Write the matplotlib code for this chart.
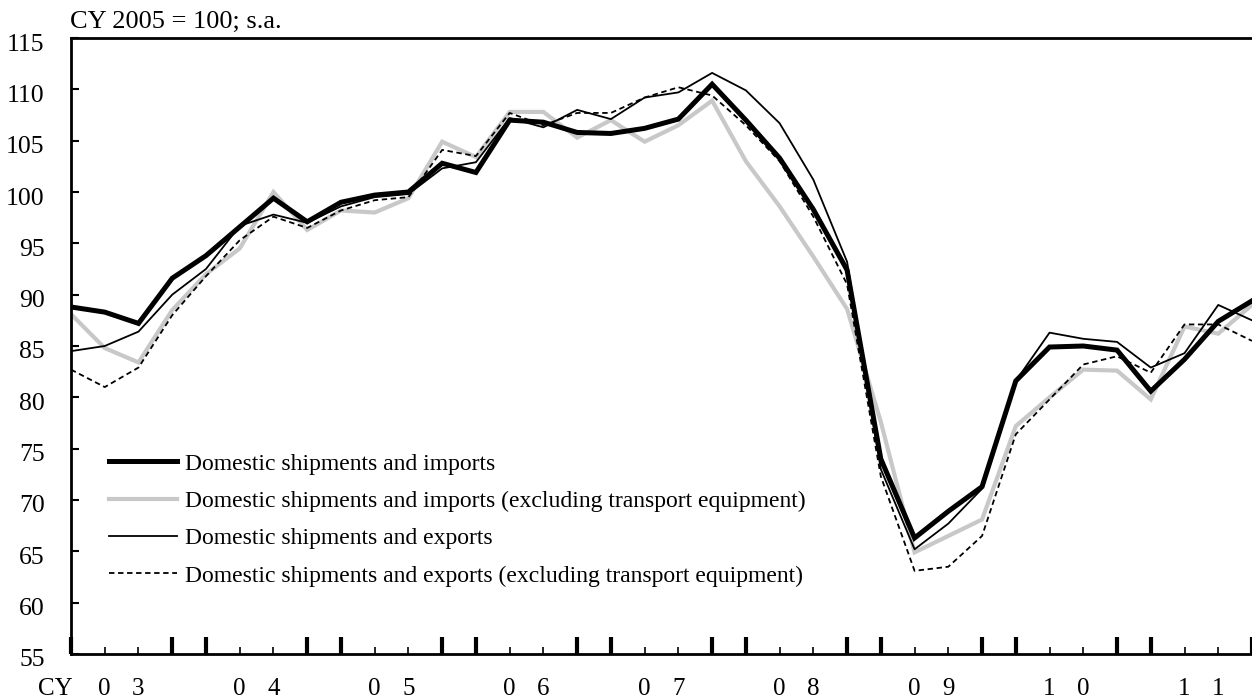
import numpy as np
import matplotlib
matplotlib.use("Agg")
import matplotlib.pyplot as plt
import matplotlib.transforms as mtransforms

plt.rcParams['font.family'] = ['Liberation Serif', 'DejaVu Serif']

# quarterly, CY2003 Q1 .. CY2011 Q4
imports = [88.8, 88.3, 87.2, 91.6, 93.8, 96.6, 99.4, 97.1, 99.0, 99.7,
           100.0, 102.8, 101.9, 107.0, 106.8, 105.8, 105.7, 106.2, 107.1, 110.5,
           107.0, 103.3, 98.3, 92.4, 74.0, 66.3, 68.9, 71.3, 81.6, 84.9,
           85.0, 84.6, 80.6, 83.7, 87.4, 89.4]
imports_ex = [88.1, 84.8, 83.4, 88.5, 92.0, 94.5, 100.0, 96.3, 98.2, 98.0,
              99.4, 104.9, 103.4, 107.8, 107.8, 105.3, 107.0, 104.9, 106.5, 108.9,
              103.0, 98.6, 93.7, 88.6, 77.6, 64.9, 66.5, 68.1, 77.2, 80.0,
              82.7, 82.6, 79.8, 86.9, 86.2, 89.0]
exports = [84.5, 85.0, 86.4, 90.0, 92.5, 96.7, 97.8, 97.0, 98.6, 99.5,
           99.8, 102.3, 102.9, 107.2, 106.3, 108.0, 107.1, 109.2, 109.7, 111.6,
           109.9, 106.7, 101.2, 93.2, 73.0, 65.2, 67.7, 71.1, 81.6, 86.3,
           85.7, 85.4, 82.9, 84.3, 89.0, 87.5]
exports_ex = [82.7, 81.0, 82.9, 88.0, 91.8, 95.3, 97.6, 96.5, 98.2, 99.2,
              99.5, 104.1, 103.5, 107.7, 106.5, 107.7, 107.7, 109.2, 110.2, 109.4,
              106.5, 103.0, 97.6, 91.0, 72.3, 63.1, 63.5, 66.5, 76.4, 79.8,
              83.2, 84.0, 82.4, 87.1, 87.1, 85.5]
years = ['03', '04', '05', '06', '07', '08', '09', '10', '11']

labels = ['Domestic shipments and imports',
          'Domestic shipments and imports (excluding transport equipment)',
          'Domestic shipments and exports',
          'Domestic shipments and exports (excluding transport equipment)']

x = np.arange(len(imports))

fig = plt.figure(figsize=(12.52, 6.99), dpi=100)
ax = fig.add_axes([71/1252, 45/699, 1181/1252, 616/699])

l2, = ax.plot(x, imports_ex, color='#c8c8c8', lw=3.0, solid_joinstyle='miter')
l1, = ax.plot(x, imports, color='black', lw=3.6, solid_joinstyle='miter')
l3, = ax.plot(x, exports, color='black', lw=1.3)
l4, = ax.plot(x, exports_ex, color='black', lw=1.3, ls=(0, (3, 2)))

ax.set_xlim(0, 34.83)
ax.set_ylim(55, 115)
ax.set_yticks(np.arange(55, 116, 5))

major = [i for i in range(36) if i % 4 in (0, 3)]
minor = [i for i in range(36) if i % 4 in (1, 2)]
ax.set_xticks(major)
ax.set_xticks(minor, minor=True)
ax.set_xticklabels([])
ax.tick_params(axis='x', which='major', direction='in', length=12, width=3)
ax.tick_params(axis='x', which='minor', direction='in', length=5, width=1.2)
ax.tick_params(axis='y', direction='in', length=6, width=1.5, pad=19, labelsize=18.5)
# labels sit a little below their ticks
shift = mtransforms.ScaledTranslation(0, -4/100, fig.dpi_scale_trans)
for lbl in ax.get_yticklabels():
    lbl.set_transform(lbl.get_transform() + shift)

ax.spines['right'].set_visible(False)
ax.spines['left'].set_linewidth(2.0)
ax.spines['bottom'].set_linewidth(2.0)
ax.spines['top'].set_linewidth(2.0)

# year labels: digits under Q2 and Q3
for k, yy in enumerate(years):
    for j, ch in enumerate(yy):
        ax.text(4*k + 1 + j, -0.057, ch, transform=ax.get_xaxis_transform(),
                ha='center', va='center', fontsize=18)
ax.text(-0.45, -0.057, 'CY', transform=ax.get_xaxis_transform(),
        ha='center', va='center', fontsize=18, clip_on=False)

fig.text(70/1252, 1 - 22/699, 'CY 2005 = 100; s.a.', ha='left', va='center', fontsize=19)

ax.legend([l1, l2, l3, l4], labels, loc='upper left', bbox_to_anchor=(0.0325, 0.326),
          frameon=False, fontsize=17, handlelength=2.85, handletextpad=0.35,
          labelspacing=0.67, borderpad=0, borderaxespad=0)

fig.savefig('out.png', dpi=100)
